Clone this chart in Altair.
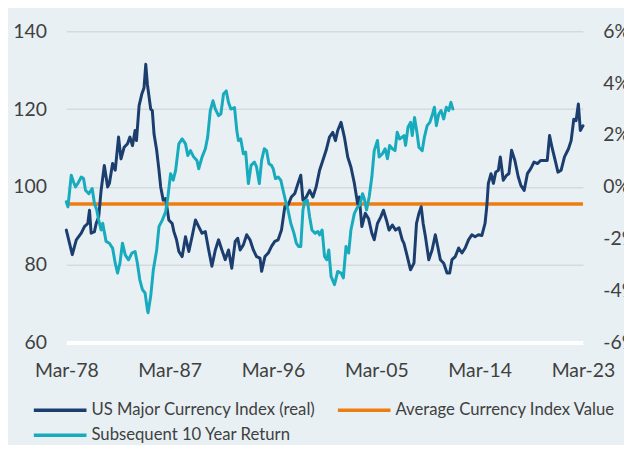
import altair as alt
import pandas as pd

# ---------------- data ----------------
index_years = [
    1978.17, 1978.69, 1979.04, 1979.47, 1979.75, 1980.04, 1980.19, 1980.33, 1980.62, 1980.77,
    1980.99, 1981.20, 1981.48, 1981.77, 1981.92, 1982.20, 1982.43, 1982.72, 1982.93, 1983.21,
    1983.50, 1983.71, 1983.93, 1984.16, 1984.28, 1984.51, 1984.74, 1984.94, 1985.09, 1985.23,
    1985.52, 1985.66, 1985.81, 1986.04, 1986.24, 1986.39, 1986.61, 1986.82, 1987.10, 1987.39,
    1987.54, 1987.77, 1987.97, 1988.26, 1988.55, 1988.84, 1989.12, 1989.42, 1989.70, 1989.99,
    1990.28, 1990.57, 1990.85, 1991.15, 1991.43, 1991.72, 1992.01, 1992.30, 1992.58, 1992.88,
    1993.10, 1993.31, 1993.59, 1993.88, 1994.17, 1994.46, 1994.74, 1995.04, 1995.18, 1995.47,
    1995.76, 1996.04, 1996.33, 1996.62, 1996.91, 1997.20, 1997.48, 1997.77, 1998.07, 1998.35,
    1998.59, 1998.78, 1999.07, 1999.36, 1999.65, 1999.93, 2000.23, 2000.51, 2000.80, 2001.09,
    2001.38, 2001.61, 2001.81, 2002.10, 2002.39, 2002.68, 2002.96, 2003.26, 2003.54, 2003.69,
    2003.91, 2004.21, 2004.49, 2004.78, 2004.99, 2005.27, 2005.56, 2005.79, 2006.05, 2006.28,
    2006.57, 2006.85, 2007.15, 2007.43, 2007.58, 2007.87, 2008.15, 2008.45, 2008.67, 2008.88,
    2009.08, 2009.25, 2009.45, 2009.74, 2010.03, 2010.31, 2010.52, 2010.75, 2011.04, 2011.33,
    2011.56, 2011.76, 2012.05, 2012.34, 2012.63, 2012.91, 2013.20, 2013.49, 2013.77, 2014.07,
    2014.36, 2014.64, 2014.79, 2014.93, 2015.16, 2015.37, 2015.57, 2015.80, 2015.97, 2016.23,
    2016.52, 2016.72, 2016.95, 2017.24, 2017.53, 2017.76, 2018.05, 2018.33, 2018.62, 2018.91,
    2019.20, 2019.48, 2019.83, 2020.06, 2020.26, 2020.47, 2020.75, 2020.99, 2021.27, 2021.56,
    2021.91, 2022.14, 2022.37, 2022.57, 2022.77, 2022.94, 2023.17,
]
index_values = [
    88.9, 82.6, 86.4, 88.1, 89.8, 90.6, 94.0, 88.1, 88.5, 90.6,
    92.3, 99.1, 105.5, 100.0, 100.9, 106.0, 104.3, 112.8, 107.2, 110.2,
    111.1, 112.8, 110.6, 114.5, 111.9, 120.9, 123.8, 125.5, 131.5, 126.4,
    120.0, 119.6, 113.6, 109.4, 104.3, 100.0, 96.6, 97.0, 91.5, 90.6,
    88.5, 86.4, 83.4, 82.1, 87.2, 83.4, 87.2, 91.5, 89.8, 88.1,
    88.5, 83.8, 79.6, 83.8, 86.4, 83.8, 81.3, 83.8, 79.1, 86.0,
    86.8, 83.8, 85.1, 87.7, 86.4, 83.8, 82.1, 81.7, 78.3, 82.1,
    83.0, 84.7, 86.0, 86.4, 88.9, 94.9, 95.3, 97.4, 98.3, 100.9,
    103.0, 96.6, 97.4, 99.1, 97.4, 100.0, 104.3, 106.8, 109.4, 112.8,
    114.0, 111.9, 114.5, 116.6, 112.8, 107.7, 105.1, 100.9, 95.7, 97.4,
    89.8, 93.2, 91.9, 88.1, 86.4, 90.6, 92.3, 94.0, 91.5, 88.9,
    90.2, 88.9, 89.5, 86.4, 85.5, 82.1, 78.7, 80.4, 90.6, 93.2,
    94.9, 90.6, 87.2, 81.3, 83.8, 87.7, 84.7, 81.3, 80.4, 77.9,
    77.9, 81.3, 82.1, 84.3, 83.0, 84.3, 86.4, 87.7, 87.2, 87.7,
    87.5, 90.6, 94.9, 100.9, 103.4, 100.9, 103.8, 104.3, 107.7, 101.7,
    103.0, 103.4, 109.4, 106.8, 102.6, 100.4, 99.1, 103.4, 104.7, 106.4,
    106.0, 106.8, 106.8, 106.8, 113.2, 110.2, 106.8, 103.8, 104.3, 107.7,
    109.8, 111.9, 117.4, 117.0, 121.3, 114.5, 115.7,
]

return_years = [
    1978.17, 1978.31, 1978.60, 1978.80, 1978.97, 1979.17, 1979.47, 1979.67, 1979.84, 1980.13,
    1980.42, 1980.62, 1980.82, 1980.99, 1981.20, 1981.34, 1981.63, 1981.92, 1982.20, 1982.43,
    1982.63, 1982.84, 1983.06, 1983.30, 1983.59, 1983.88, 1984.16, 1984.36, 1984.57, 1984.80,
    1985.03, 1985.23, 1985.29, 1985.52, 1985.75, 1986.04, 1986.24, 1986.53, 1986.82, 1987.02,
    1987.25, 1987.48, 1987.69, 1987.97, 1988.26, 1988.55, 1988.75, 1988.98, 1989.27, 1989.55,
    1989.70, 1989.99, 1990.28, 1990.48, 1990.71, 1990.94, 1991.15, 1991.43, 1991.63, 1991.86,
    1992.10, 1992.30, 1992.50, 1992.82, 1993.02, 1993.16, 1993.36, 1993.59, 1993.79, 1994.03,
    1994.26, 1994.55, 1994.74, 1994.98, 1995.18, 1995.41, 1995.61, 1995.82, 1996.04, 1996.19,
    1996.39, 1996.62, 1996.85, 1997.05, 1997.25, 1997.48, 1997.72, 1998.00, 1998.20, 1998.41,
    1998.59, 1998.78, 1998.93, 1999.16, 1999.36, 1999.56, 1999.85, 2000.08, 2000.23, 2000.45,
    2000.66, 2000.86, 2001.03, 2001.23, 2001.53, 2001.81, 2002.10, 2002.30, 2002.53, 2002.76,
    2002.96, 2003.26, 2003.54, 2003.74, 2003.97, 2004.12, 2004.32, 2004.55, 2004.78, 2004.99,
    2005.27, 2005.42, 2005.70, 2005.94, 2006.14, 2006.33, 2006.57, 2006.80, 2006.99, 2007.20,
    2007.43, 2007.58, 2007.72, 2007.93, 2008.15, 2008.30, 2008.50, 2008.73, 2008.88, 2009.17,
    2009.36, 2009.60, 2009.83, 2010.03, 2010.23, 2010.40, 2010.61, 2010.81, 2011.04, 2011.27,
    2011.48, 2011.67, 2011.84,
]
return_values = [
    -0.57, -0.77, 0.45, 0.19, 0.00, 0.13, 0.38, 0.32, -0.13, -0.26,
    -0.06, -0.64, -0.89, -1.28, -1.66, -1.40, -2.10, -2.17, -2.36, -2.94,
    -3.32, -2.94, -2.17, -2.62, -2.81, -2.55, -2.49, -2.94, -3.58, -3.96,
    -4.09, -4.73, -4.85, -4.21, -3.19, -2.43, -1.53, -1.28, -0.96, -0.38,
    0.51, 0.26, 0.64, 1.66, 1.85, 1.66, 1.21, 1.40, 1.15, 1.02,
    0.70, 1.15, 1.47, 1.92, 2.94, 3.32, 3.00, 2.75, 2.81, 3.58,
    3.70, 3.25, 3.00, 3.06, 2.17, 1.79, 1.85, 1.28, 1.34, 0.13,
    0.83, 0.96, 0.77, 0.13, 1.02, 1.47, 1.40, 0.89, 0.83, 0.70,
    0.32, 0.38, 0.26, -0.13, -0.51, -0.89, -1.40, -1.79, -2.17, -2.30,
    -2.30, -0.89, -0.57, -0.51, -1.15, -1.66, -1.79, -1.72, -1.85, -1.66,
    -2.68, -2.81, -2.43, -3.45, -3.77, -3.26, -3.32, -3.51, -2.30, -2.55,
    -1.66, -1.02, -0.77, -0.70, -0.26, -0.45, -0.89, -0.38, 0.38, 1.40,
    1.79, 1.15, 1.28, 1.47, 1.09, 1.60, 1.47, 1.40, 2.11, 1.85,
    1.92, 1.98, 1.60, 2.30, 2.49, 1.98, 2.68, 2.04, 1.53, 1.40,
    1.92, 2.36, 2.49, 2.75, 3.07, 2.36, 2.81, 2.94, 2.62, 3.07,
    2.94, 3.26, 3.00,
]

average_value = [95.6]

series_names = [
    "US Major Currency Index (real)",
    "Average Currency Index Value",
    "Subsequent 10 Year Return",
]

x_ticks = [1978.17, 1987.17, 1996.17, 2005.17, 2014.17, 2023.17]
left_ticks = [60, 80, 100, 120, 140]
right_ticks = [-6, -4, -2, 0, 2, 4, 6]

# ---------------- style ----------------
NAVY = "#1B3E6F"
TEAL = "#17ABBD"
ORANGE = "#EE7D11"
BG = "#E8F0F4"
GRID = "#D5DADF"
TEXT = "#404040"
FONT = "Lato"
AXIS_FS = 19.5
LEGEND_FS = 16.8

W, H = 520, 313.3

x_scale = alt.Scale(domain=[x_ticks[0], x_ticks[-1]], nice=False, zero=False)
x_axis = alt.Axis(
    values=x_ticks,
    labelExpr="'Mar-' + slice(toString(floor(datum.value)), 2)",
    title=None, grid=False, ticks=False, tickSize=0, labelFlush=False,
    domain=True, domainColor="white", domainWidth=4,
    labelPadding=19, labelFont=FONT, labelFontSize=AXIS_FS, labelColor=TEXT,
)
left_scale = alt.Scale(domain=[left_ticks[0], left_ticks[-1]], nice=False, zero=False)
left_axis = alt.Axis(
    values=left_ticks, orient="left", title=None,
    grid=True, gridColor=GRID, gridWidth=1.5,
    ticks=False, tickSize=0, domain=False, labelPadding=20,
    labelFont=FONT, labelFontSize=AXIS_FS, labelColor=TEXT,
)
right_scale = alt.Scale(domain=[right_ticks[0], right_ticks[-1]], nice=False, zero=False)
right_axis = alt.Axis(
    values=right_ticks, orient="right", title=None, grid=False,
    labelExpr="datum.value + '%'",
    ticks=False, tickSize=0, domain=False, labelPadding=20,
    labelFont=FONT, labelFontSize=AXIS_FS, labelColor=TEXT,
)

idx_df = pd.DataFrame({"year": index_years, "value": index_values})
ret_df = pd.DataFrame({"year": return_years, "value": return_values})
avg_df = pd.DataFrame({"value": average_value})

avg_rule = alt.Chart(avg_df).mark_rule(color=ORANGE, strokeWidth=3.5).encode(
    y=alt.Y("value:Q", scale=left_scale, axis=left_axis),
)
navy_line = alt.Chart(idx_df).mark_line(
    color=NAVY, strokeWidth=3, strokeJoin="round", strokeCap="round"
).encode(
    x=alt.X("year:Q", scale=x_scale, axis=x_axis),
    y=alt.Y("value:Q", scale=left_scale, axis=left_axis),
)
left_layer = alt.layer(avg_rule, navy_line)

teal_line = alt.Chart(ret_df).mark_line(
    color=TEAL, strokeWidth=3, strokeJoin="round", strokeCap="round"
).encode(
    x=alt.X("year:Q", scale=x_scale, axis=x_axis),
    y=alt.Y("value:Q", scale=right_scale, axis=right_axis),
)

# ---------------- legend (drawn below the plot) ----------------
legend_colors = [NAVY, ORANGE, TEAL]
legend_pos = [(-32.7, 381.5), (273.3, 381.5), (-32.7, 406.5)]
SYMBOL_LEN = 53
legend_layers = []
for name, col, (lx, ly) in zip(series_names, legend_colors, legend_pos):
    ldf = pd.DataFrame({"name": [name]})
    legend_layers.append(
        alt.Chart(ldf).mark_rule(color=col, strokeWidth=3.5).encode(
            x=alt.value(lx), x2=alt.value(lx + SYMBOL_LEN), y=alt.value(ly)
        )
    )
    legend_layers.append(
        alt.Chart(ldf).mark_text(
            align="left", baseline="middle", font=FONT, fontSize=LEGEND_FS, color=TEXT
        ).encode(x=alt.value(lx + SYMBOL_LEN + 5), y=alt.value(ly), text="name:N")
    )

chart = (
    alt.layer(left_layer, teal_line, *legend_layers)
    .resolve_scale(y="independent")
    .properties(
        width=W,
        height=H,
        padding={"left": 58.7, "top": 22, "right": 41.3, "bottom": 101.7},
        autosize=alt.AutoSizeParams(type="none"),
        background=BG,
    )
    .configure_view(stroke=None)
)

chart.save("out.html", embed_options={"renderer": "svg", "actions": False})
